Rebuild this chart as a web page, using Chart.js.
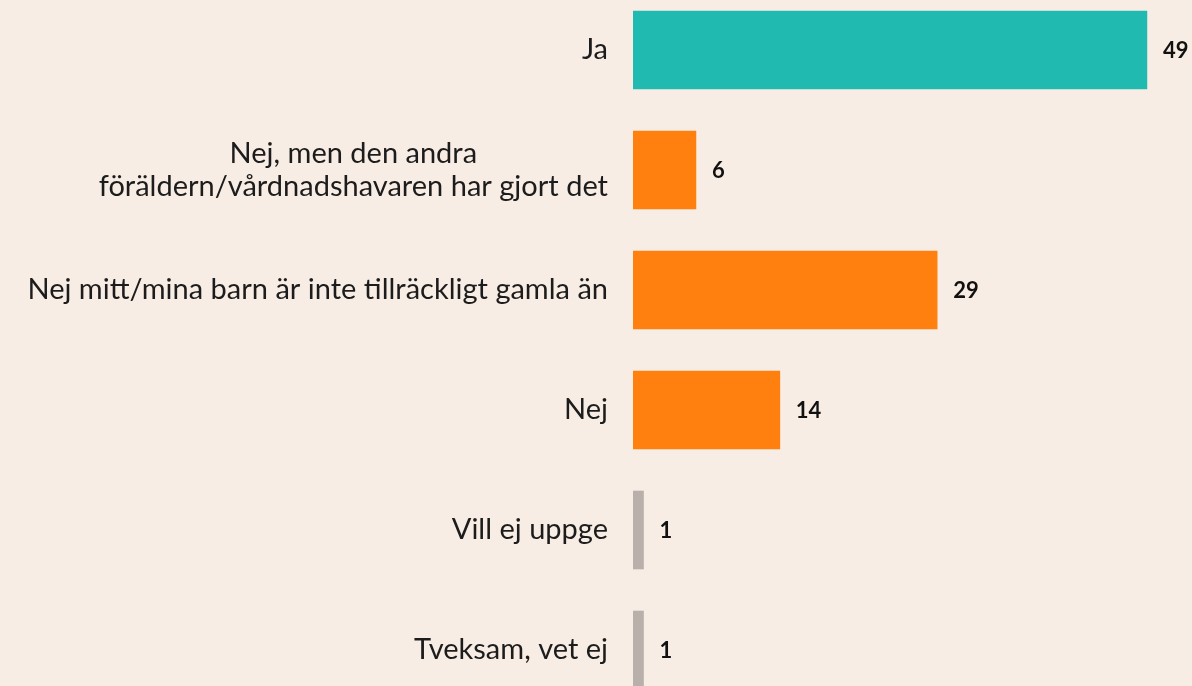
<!DOCTYPE html>
<html>
<head>
<meta charset="utf-8">
<script src="https://cdn.jsdelivr.net/npm/chart.js@4"></script>
<style>
  html, body { margin: 0; padding: 0; background: #F8EDE4; overflow: hidden; }
  #wrap { width: 1192px; height: 686px; position: relative; overflow: hidden; }
  #c { position: absolute; left: 0; top: -10px; }
</style>
</head>
<body>
<div id="wrap"><canvas id="c" width="1192" height="720"></canvas></div>
<script>
const categories = [
  ['Ja'],
  ['Nej, men den andra', 'föräldern/vårdnadshavaren har gjort det'],
  ['Nej mitt/mina barn är inte tillräckligt gamla än'],
  ['Nej'],
  ['Vill ej uppge'],
  ['Tveksam, vet ej']
];
const values = [49, 6, 29, 14, 1, 1];
const barColors = ['#20BAB0', '#FF800E', '#FF800E', '#FF800E', '#B9B0AB', '#B9B0AB'];

const labelFont = '29px "Lato", "Open Sans", sans-serif';
const valueFont = 'bold 22px "Lato", "Open Sans", sans-serif';

const labelPlugin = {
  id: 'customLabels',
  afterDatasetsDraw(chart) {
    const ctx = chart.ctx;
    const yScale = chart.scales.y;
    const left = chart.chartArea.left;
    ctx.save();
    ctx.fillStyle = '#1c1c1c';
    ctx.font = labelFont;
    ctx.textBaseline = 'middle';
    const lineH = 33;
    categories.forEach((lines, i) => {
      const yc = yScale.getPixelForValue(i);
      const widths = lines.map(l => ctx.measureText(l).width);
      const maxW = Math.max(...widths);
      const rightX = left - 25;
      const centerX = rightX - maxW / 2;
      lines.forEach((l, j) => {
        const y = yc + (j - (lines.length - 1) / 2) * lineH;
        ctx.textAlign = 'center';
        ctx.fillText(l, centerX, y);
      });
    });
    const meta = chart.getDatasetMeta(0);
    ctx.font = valueFont;
    ctx.textAlign = 'left';
    ctx.fillStyle = '#111';
    meta.data.forEach((bar, i) => {
      ctx.fillText(String(values[i]), bar.x + 16, bar.y + 1);
    });
    ctx.restore();
  }
};

new Chart(document.getElementById('c'), {
  type: 'bar',
  data: {
    labels: categories.map(c => c.join(' ')),
    datasets: [{
      data: values,
      backgroundColor: barColors,
      borderWidth: 0,
      barThickness: 78
    }]
  },
  options: {
    indexAxis: 'y',
    responsive: false,
    animation: false,
    devicePixelRatio: 1,
    layout: { padding: 0 },
    plugins: { legend: { display: false }, tooltip: { enabled: false } },
    scales: {
      x: {
        display: false,
        min: 0,
        max: 53.3
      },
      y: {
        grid: { display: false },
        border: { display: false },
        ticks: { display: false },
        afterFit(scale) { scale.width = 633; }
      }
    }
  },
  plugins: [labelPlugin]
});
</script>
</body>
</html>
